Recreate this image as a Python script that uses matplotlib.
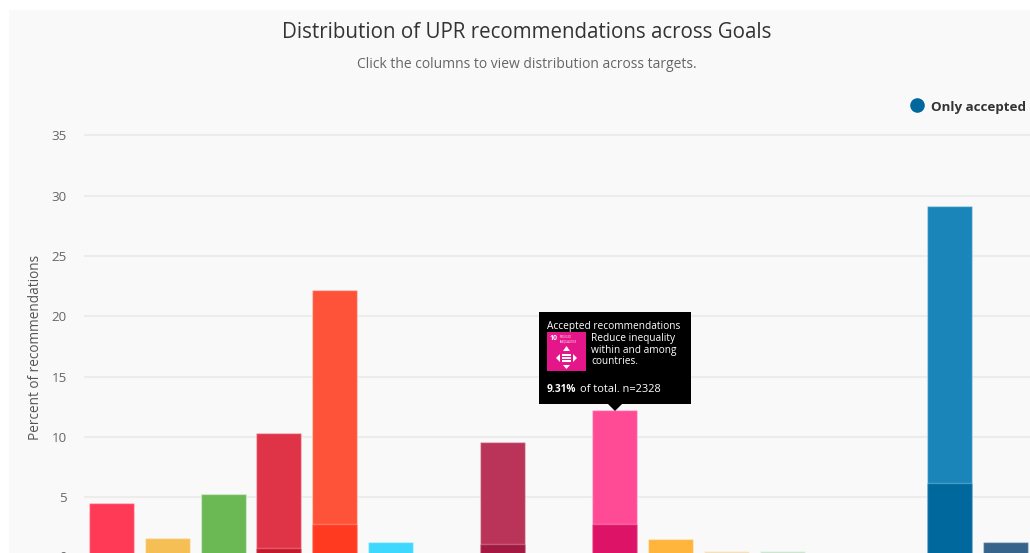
import matplotlib
matplotlib.use('Agg')
import matplotlib.pyplot as plt
from matplotlib.patches import Rectangle, Polygon

W, H = 1030, 553

goals = list(range(1, 18))
# percent of all recommendations
all_recs = [4.55, 1.65, 5.3, 10.35, 22.15, 1.25, 0, 9.6, 0, 12.2, 1.55, 0.55, 0.52, 0, 0, 29.1, 1.25]
accepted = [0, 0, 0, 0.75, 2.75, 0, 0, 1.15, 0, 2.8, 0, 0, 0, 0, 0, 6.2, 0]
light_colors = ['#ff3a56', '#f6bf55', '#6ab955', '#df3447', '#ff5339', '#3ed8ff', '#f9f9f9', '#ba3459', '#f9f9f9',
                '#ff4a96', '#ffb43c', '#f5deb8', '#c8e6cc', '#f9f9f9', '#f9f9f9', '#1a85b9', '#36648b']
dark_colors = ['#e5243b', '#dda63a', '#4c9f38', '#c5192d', '#ff3a21', '#26bde2', '#fcc30b', '#a21942', '#fd6925',
               '#dd1367', '#fd9d24', '#bf8b2e', '#3f7e44', '#0a97d9', '#56c02b', '#00689d', '#19486a']
y_ticks = [5, 10, 15, 20, 25, 30, 35]

plt.rcParams['font.family'] = ['Open Sans', 'DejaVu Sans']

fig = plt.figure(figsize=(W / 100, H / 100), dpi=100, facecolor='white')


def px(x, y):
    return x / W, 1 - y / H


fig.patches.append(Rectangle((9 / W, 0), 1, 1 - 10 / H, transform=fig.transFigure, color='#f9f9f9', lw=0, zorder=-5))

# axes runs off the bottom and right of the canvas, as in the screenshot
ax = fig.add_axes([84 / W, 0, 1 - 84 / W, 1 - 75 / H])
ax.patch.set_alpha(0)
for s in ax.spines.values():
    s.set_visible(False)

ax.set_yticks(y_ticks)
ax.grid(axis='y', color='#ececec', lw=1.5)
ax.set_axisbelow(True)
ax.set_xticks([])
ax.tick_params(axis='y', length=0, pad=0, labelsize=9.6, labelcolor='#666666')
for t in ax.get_yticklabels():
    t.set_x(-17 / (W - 84))

ax.bar(goals, all_recs, width=0.805, color=light_colors, edgecolor=(1, 1, 1, 0.35), lw=1)
ax.bar(goals, accepted, width=0.805, color=dark_colors, edgecolor=(1, 1, 1, 0.25), lw=1)

ax.set_xlim(0.512, 17.434)
ax.set_ylim(0.37, 40.0)

# the 0 label is mostly cut by the bottom edge in the reference
fig.text(*px(67, 557.5), '0', ha='right', va='center', fontsize=9.6, color='#666666')

fig.text(*px(526.5, 32), 'Distribution of UPR recommendations across Goals', ha='center', va='center',
         fontsize=14.8, color='#333333')
fig.text(*px(526.5, 65), 'Click the columns to view distribution across targets.', ha='center', va='center',
         fontsize=10, color='#666666')
fig.text(*px(36, 347), 'Percent of recommendations', rotation=90, ha='center', va='center',
         fontsize=9.8, color='#555555')

# legend
leg = fig.add_artist(plt.Line2D([917 / W], [1 - 105 / H], marker='o', ms=10.5, color='#00689d', mew=0,
                                transform=fig.transFigure))
fig.text(*px(931, 107), 'Only accepted', ha='left', va='center', fontsize=9.6, fontweight='bold', color='#333333')

# tooltip
tip = Polygon([px(539, 312), px(691, 312), px(691, 404), px(622, 404), px(615, 411), px(608, 404), px(539, 404)],
              closed=True, transform=fig.transFigure, color='black', lw=0, zorder=5)
fig.patches.append(tip)
fig.patches.append(Rectangle(px(547, 371), 39 / W, 39 / H, transform=fig.transFigure, color='#e5168a', lw=0, zorder=6))
fig.text(*px(550, 339), '10', fontsize=5, fontweight='bold', color='white', va='center', zorder=7)
fig.text(*px(560, 339), 'REDUCED\nINEQUALITIES', fontsize=1.9, color='white', va='center', zorder=7)
for y in [355, 358, 361]:
    fig.patches.append(Rectangle(px(562, y + 1), 9 / W, 2 / H, transform=fig.transFigure, color='white', lw=0, zorder=7))
for pts in [[(566.5, 346), (563, 351), (570, 351)], [(566.5, 369), (563, 365), (570, 365)],
            [(556, 358), (560, 354), (560, 362)], [(577, 358), (573, 354), (573, 362)]]:
    fig.patches.append(Polygon([px(*p) for p in pts], closed=True, transform=fig.transFigure, color='white', lw=0, zorder=7))

tip_font = 7.3
fig.text(*px(547, 327), 'Accepted recommendations', fontsize=tip_font, color='white', va='center', zorder=7)
fig.text(*px(591, 350), 'Reduce inequality\nwithin and among\ncountries.', fontsize=tip_font, color='white',
         va='center', linespacing=1.1, zorder=7)
fig.text(*px(547, 390), '9.31%', fontsize=tip_font, fontweight='bold', color='white', va='center', zorder=7)
fig.text(*px(580, 390), 'of total. n=2328', fontsize=7.9, color='white', va='center', zorder=7)

fig.savefig('out.png', dpi=100)
